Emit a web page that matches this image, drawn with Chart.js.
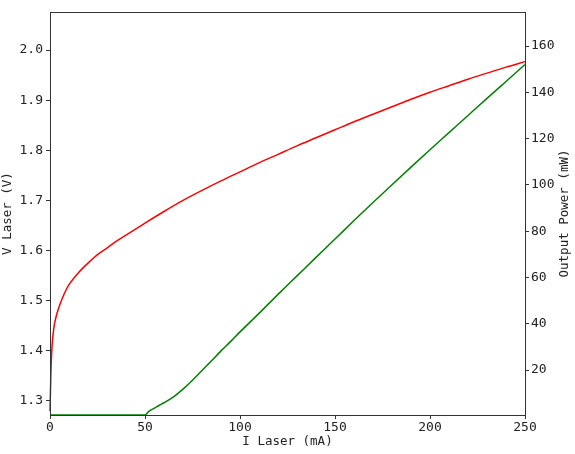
<!DOCTYPE html>
<html>
<head>
<meta charset="utf-8">
<script src="https://cdn.jsdelivr.net/npm/chart.js@4/dist/chart.umd.min.js"></script>
<style>
  html, body { margin: 0; padding: 0; background: #fff; }
  #wrap { width: 575px; height: 454px; }
</style>
</head>
<body>
<div id="wrap"><canvas id="chart"></canvas></div>
<script>
// laser current (mA) and forward voltage (V)
var currentV = [0, 0.5, 1, 2, 3, 5, 7.5, 10, 15, 20, 25, 30, 35, 40, 45, 50, 60, 70, 80, 90, 100,
  110, 120, 130, 140, 150, 160, 170, 180, 190, 200, 210, 220, 230, 240, 250];
var voltage = [1.28, 1.36, 1.405, 1.445, 1.465, 1.49, 1.514, 1.532, 1.556, 1.575, 1.592, 1.605,
  1.619, 1.631, 1.643, 1.655, 1.678, 1.700, 1.720, 1.739, 1.757, 1.775, 1.792, 1.809, 1.825,
  1.841, 1.857, 1.872, 1.887, 1.902, 1.916, 1.929, 1.942, 1.954, 1.966, 1.977];

// laser current (mA) and optical output power (mW)
var currentP = [0, 50, 52, 55, 57.5, 60, 65, 70, 75, 80, 85, 90, 95, 100, 110, 120, 130, 140,
  150, 160, 170, 180, 190, 200, 210, 220, 230, 240, 250];
var power = [0.6, 0.6, 2.2, 3.6, 4.8, 5.9, 8.4, 11.8, 15.6, 19.8, 24.0, 28.3, 32.3, 36.5,
  44.5, 52.7, 60.7, 68.7, 76.6, 84.6, 92.4, 100.1, 107.7, 115.2, 122.6, 130.0,
  137.4, 144.7, 152.0];

// tick labels
var xTicks = [0, 50, 100, 150, 200, 250];
var vTicks = [1.3, 1.4, 1.5, 1.6, 1.7, 1.8, 1.9, 2.0];
var pTicks = [20, 40, 60, 80, 100, 120, 140, 160];

function pairs(xs, ys) {
  return xs.map(function (x, i) { return { x: x, y: ys[i] }; });
}

var tickFont = { family: "DejaVu Sans Mono", size: 13 };
var titleFont = { family: "DejaVu Sans Mono", size: 12.5 };

// box around the plot area, plus the right axis title read bottom to top
var frame = {
  id: "frame",
  afterDraw: function (chart) {
    var a = chart.chartArea, c = chart.ctx;
    c.save();
    c.strokeStyle = "#333";
    c.lineWidth = 1;
    c.strokeRect(Math.round(a.left) + 0.5, Math.round(a.top) + 0.5,
      Math.round(a.right - a.left), Math.round(a.bottom - a.top));
    c.translate(565, (a.top + a.bottom) / 2);
    c.rotate(-Math.PI / 2);
    c.fillStyle = "#222";
    c.font = "12.5px 'DejaVu Sans Mono'";
    c.textAlign = "center";
    c.textBaseline = "middle";
    c.fillText("Output Power (mW)", 0, 0);
    c.restore();
  }
};

var ctx = document.getElementById("chart").getContext("2d");

var myChart = new Chart(ctx, {
  type: "line",
  data: {
    datasets: [
      {
        label: "V Laser",
        data: pairs(currentV, voltage),
        borderColor: "#ff0000",
        borderWidth: 1.5,
        pointRadius: 0,
        cubicInterpolationMode: "monotone",
        yAxisID: "y",
        clip: false
      },
      {
        label: "Output Power",
        data: pairs(currentP, power),
        borderColor: "#008000",
        borderWidth: 1.5,
        pointRadius: 0,
        cubicInterpolationMode: "monotone",
        yAxisID: "y1",
        clip: false
      }
    ]
  },
  options: {
    responsive: true,
    maintainAspectRatio: false,
    animation: false,
    layout: { padding: { top: 12, left: 0, right: 0, bottom: 0 } },
    plugins: { legend: { display: false }, tooltip: { enabled: false } },
    scales: {
      x: {
        type: "linear",
        min: 0,
        max: 250,
        afterBuildTicks: function (axis) { axis.ticks = xTicks.map(function (v) { return { value: v }; }); },
        afterFit: function (scale) { scale.height = 39; },
        grid: { drawOnChartArea: false, tickLength: 4, tickColor: "#333" },
        border: { display: false },
        ticks: { font: tickFont, color: "#222", padding: 1, maxRotation: 0 },
        title: { display: true, text: "I Laser (mA)", font: titleFont, color: "#222", padding: { top: 0, bottom: 5 } }
      },
      y: {
        position: "left",
        min: 1.272,
        max: 2.076,
        afterBuildTicks: function (axis) { axis.ticks = vTicks.map(function (v) { return { value: v }; }); },
        afterFit: function (scale) { scale.width = 50; },
        grid: { drawOnChartArea: false, tickLength: 4, tickColor: "#333" },
        border: { display: false },
        ticks: { font: tickFont, color: "#222", padding: 3, callback: function (v) { return v.toFixed(1); } },
        title: { display: true, text: "V Laser (V)", font: titleFont, color: "#222", padding: 0 }
      },
      y1: {
        position: "right",
        min: 0.6,
        max: 174.7,
        afterBuildTicks: function (axis) { axis.ticks = pTicks.map(function (v) { return { value: v }; }); },
        afterFit: function (scale) { scale.width = 50; },
        grid: { drawOnChartArea: false, tickLength: 4, tickColor: "#333" },
        border: { display: false },
        ticks: { font: tickFont, color: "#222", padding: 2 },
        title: { display: false }
      }
    }
  },
  plugins: [frame]
});
</script>
</body>
</html>
